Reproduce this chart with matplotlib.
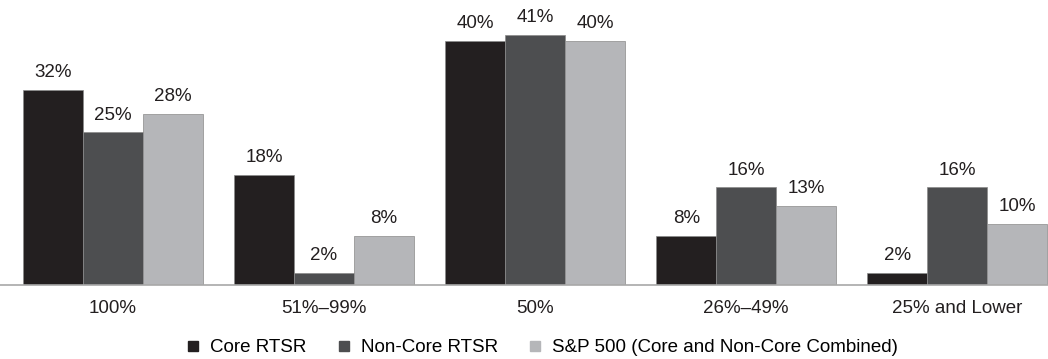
import numpy as np
import matplotlib
matplotlib.use('Agg')
import matplotlib.pyplot as plt
from matplotlib.lines import Line2D

plt.rcParams['font.family'] = ['Liberation Sans', 'DejaVu Sans']

categories = ['100%', '51%\u201399%', '50%', '26%\u201349%', '25% and Lower']
core = [32, 18, 40, 8, 2]
non_core = [25, 2, 41, 16, 16]
sp500 = [28, 8, 40, 13, 10]
series_names = ['Core RTSR', 'Non-Core RTSR', 'S&P 500 (Core and Non-Core Combined)']
colors = ['#231f20', '#4d4e50', '#b5b6b9']

fig = plt.figure(figsize=(10.48, 3.59), dpi=100)
ax = fig.add_axes([0.0, 74 / 359, 1.0, 285 / 359])

x = np.arange(len(categories))
w = 0.284
for i, (vals, name, c) in enumerate(zip([core, non_core, sp500], series_names, colors)):
    pos = x + (i - 1) * w
    ax.bar(pos, vals, width=w, color=c, edgecolor='#8a8a8a', linewidth=0.5, label=name)
    for p, v in zip(pos, vals):
        ax.text(p, v + 2.1, f'{v}%', ha='center', va='baseline', fontsize=13.5, color='#231f20')

ax.set_xlim(-0.535, 4.43)
ax.set_ylim(0, 46.7)
ax.set_yticks([])
ax.set_xticks(x)
ax.set_xticklabels(categories, fontsize=13.5, color='#231f20')
ax.tick_params(axis='x', length=0, pad=11)
for s in ['top', 'right', 'left']:
    ax.spines[s].set_visible(False)
ax.spines['bottom'].set_color('#a8a8a8')
ax.spines['bottom'].set_linewidth(1.2)

handles = [Line2D([], [], marker='s', linestyle='', markersize=7, color=c) for c in colors]
fig.legend(handles, series_names, loc='center', bbox_to_anchor=(0.518, 0.031), ncol=3,
           frameon=False, fontsize=13.5, handlelength=0.6, handletextpad=0.6, columnspacing=1.7,
           borderpad=0.1)

fig.savefig('out.png', dpi=100)
